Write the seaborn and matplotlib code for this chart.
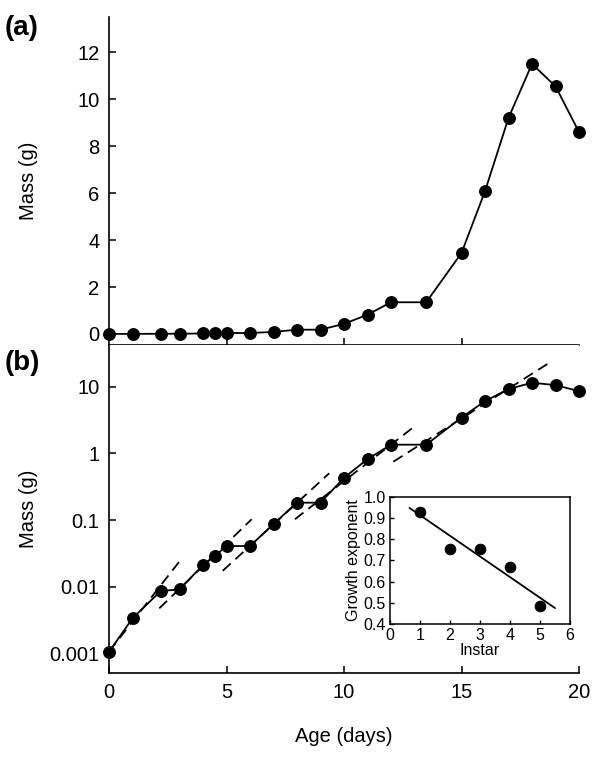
import numpy as np
import pandas as pd
import matplotlib
matplotlib.use("Agg")
import matplotlib.pyplot as plt
import seaborn as sns

# ---------------- data ----------------
age_days = [0, 1, 2.2, 3, 4, 4.5, 5, 6, 7, 8, 9, 10, 11, 12, 13.5, 15, 16, 17, 18, 19, 20]
mass_g = [0.00105, 0.00335, 0.0086, 0.0091, 0.0211, 0.0288, 0.0407, 0.0407, 0.087,
          0.182, 0.182, 0.43, 0.82, 1.35, 1.35, 3.45, 6.08, 9.2, 11.5, 10.55, 8.6]

# per-instar exponential fits (dashed lines): start/end age and mass
fit_x_start = [0.0, 2.14, 4.84, 7.91, 12.1]
fit_x_end = [3.1, 6.07, 9.37, 13.02, 18.74]
fit_y_start = [0.00106, 0.00473, 0.0173, 0.1026, 0.75]
fit_y_end = [0.0266, 0.1026, 0.502, 2.57, 22.9]

# inset: growth exponent by instar
instar = [1, 2, 3, 4, 5]
growth_exp = [0.93, 0.755, 0.752, 0.668, 0.487]
reg_x_range = [0.65, 5.5]

a_yticks = [0, 2, 4, 6, 8, 10, 12]
a_xticks = [5, 10, 15]
b_yticks = [0.001, 0.01, 0.1, 1, 10]
b_yticklabels = ["0.001", "0.01", "0.1", "1", "10"]
xticks = [0, 5, 10, 15, 20]
inset_xticks = [0, 1, 2, 3, 4, 5, 6]
inset_yticks = [0.4, 0.5, 0.6, 0.7, 0.8, 0.9, 1.0]

# ---------------- style ----------------
sns.set_theme(style="white")
plt.rcParams['font.family'] = ['Liberation Sans', 'DejaVu Sans']
plt.rcParams.update({
    'axes.edgecolor': 'black', 'axes.linewidth': 1.2,
    'text.color': 'black', 'axes.labelcolor': 'black',
    'xtick.color': 'black', 'ytick.color': 'black',
})

df = pd.DataFrame({"age": age_days, "mass": mass_g})

fig = plt.figure(figsize=(6.0, 7.62), dpi=100)
L, W = 109 / 600, 470 / 600
H = 762
ax_a = fig.add_axes([L, 1 - 345 / H, W, 328 / H])
ax_b = fig.add_axes([L, 1 - 673.3 / H, W, 328.3 / H])

FS = 14.5
line_kw = dict(color="black", linewidth=1.3, marker="o", markersize=8.5,
               markeredgecolor="black", markerfacecolor="black", clip_on=False, zorder=5)

# panel (a)
sns.lineplot(data=df, x="age", y="mass", ax=ax_a, estimator=None, sort=False, **line_kw)
ax_a.set_xlim(0, 20)
ax_a.set_ylim(-0.47, 13.5)
ax_a.set_yticks(a_yticks)
ax_a.set_xticks(a_xticks)
ax_a.set_xticklabels([])
ax_a.set_xlabel("")
ax_a.set_ylabel("Mass (g)", fontsize=FS)
ax_a.yaxis.set_label_coords(-0.151, 0.5)
for s in ["top", "right"]:
    ax_a.spines[s].set_visible(False)
ax_a.tick_params(direction="in", length=5, width=1.1, pad=7, labelsize=FS,
                 left=True, bottom=True)

# panel (b)
ax_b.set_yscale("log")
for xs, xe, ys, ye in zip(fit_x_start, fit_x_end, fit_y_start, fit_y_end):
    seg = pd.DataFrame({"age": [xs, xe], "mass": [ys, ye]})
    sns.lineplot(data=seg, x="age", y="mass", ax=ax_b, estimator=None, sort=False,
                 color="black", linewidth=1.3, linestyle=(0, (6, 3.5)))
sns.lineplot(data=df, x="age", y="mass", ax=ax_b, estimator=None, sort=False, **line_kw)
ax_b.set_xlim(0, 20)
ax_b.set_ylim(10 ** -3.30, 10 ** 1.626)
ax_b.set_yticks(b_yticks)
ax_b.set_yticklabels(b_yticklabels)
ax_b.yaxis.set_minor_locator(matplotlib.ticker.NullLocator())
ax_b.set_xticks(xticks)
ax_b.set_xticklabels([str(v) for v in xticks])
ax_b.set_ylabel("Mass (g)", fontsize=FS)
ax_b.yaxis.set_label_coords(-0.151, 0.5)
ax_b.set_xlabel("Age (days)", fontsize=FS)
ax_b.xaxis.set_label_coords(0.5, -0.165)
for s in ["top", "right"]:
    ax_b.spines[s].set_visible(False)
ax_b.tick_params(direction="in", length=5, width=1.1, pad=7, labelsize=FS,
                 left=True, bottom=True)

# inset
ax_i = fig.add_axes([390 / 600, 1 - 624 / H, 180 / 600, 127.3 / H])
sns.scatterplot(x=instar, y=growth_exp, ax=ax_i, color="black", s=60, edgecolor="black",
                zorder=5)
coef = np.polyfit(instar, growth_exp, 1)
rx = np.array(reg_x_range)
sns.lineplot(x=rx, y=np.polyval(coef, rx), ax=ax_i, color="black", linewidth=1.3,
             estimator=None, sort=False)
ax_i.set_xlim(0, 6)
ax_i.set_ylim(0.4, 1.0)
ax_i.set_xticks(inset_xticks)
ax_i.set_yticks(inset_yticks)
ax_i.set_yticklabels([f"{v:.1f}" for v in inset_yticks])
ax_i.set_xlabel("Instar", fontsize=11.5, labelpad=0)
ax_i.set_ylabel("Growth exponent", fontsize=11.5, labelpad=2)
for s in ax_i.spines.values():
    s.set_visible(True)
    s.set_color("black")
    s.set_linewidth(1.1)
ax_i.tick_params(direction="in", length=3, width=1.0, pad=3, labelsize=11.5,
                 left=True, bottom=True)

fig.text(22 / 600, 1 - 28 / H, "(a)", fontsize=20, fontweight="bold", ha="center", va="center")
fig.text(22 / 600, 1 - 363 / H, "(b)", fontsize=20, fontweight="bold", ha="center", va="center")

fig.savefig("out.png", dpi=100, facecolor="white")
